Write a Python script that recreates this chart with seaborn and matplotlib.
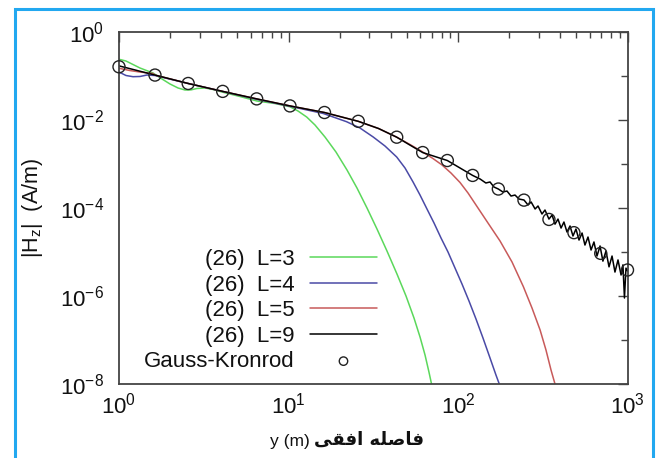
import numpy as np
import pandas as pd
import matplotlib
matplotlib.use("Agg")
import matplotlib.pyplot as plt
import seaborn as sns
from matplotlib.ticker import FixedLocator, FuncFormatter, LogLocator, NullFormatter
from matplotlib.patches import Rectangle

# ---------------- data ----------------
gk_x = [1.0, 1.63, 2.56, 4.09, 6.49, 10.2, 16.3, 25.8, 43.5, 61.9, 86.5, 122,
        173, 245, 344, 483, 695, 1000]
gk_y = [0.162, 0.105, 0.0676, 0.0447, 0.0302, 0.0209, 0.0148, 0.00933, 0.00407,
        0.00182, 0.00120, 0.00055, 0.00027, 0.000151, 5.5e-5, 2.75e-5, 9.3e-6, 3.9e-6]

L9_x = [1.0, 1.63, 2.56, 4.09, 6.49, 10.2, 16.3, 25.8, 34.0, 43.5, 52.0, 61.9, 86.5,
        122, 135, 146, 154.5, 163, 173, 184, 194.5, 205.5, 217, 229, 245, 259, 270,
        285, 296.5, 313, 326, 344, 359, 373.5, 389, 405.5, 421.7, 439.5, 458, 476.8,
        496.6, 517.6, 539.5, 561, 584.8, 609.5, 634, 660.7, 688.7, 716, 746.4, 778,
        810.6, 843.4, 879, 916.2, 939.8, 959.4, 979.5, 1000]
L9_y = [0.17, 0.105, 0.0676, 0.0447, 0.0302, 0.0209, 0.0148, 0.00933, 0.0064, 0.00407,
        0.0027, 0.00182, 0.00120,
        5.5e-4, 4.56e-4, 3.70e-4, 3.90e-4, 3.00e-4, 2.70e-4, 2.31e-4, 2.43e-4, 1.87e-4,
        1.97e-4, 1.60e-4, 1.52e-4, 1.17e-4, 1.37e-4, 9.5e-5, 1.11e-4, 7.3e-5, 9.0e-5,
        5.6e-5, 6.9e-5, 4.3e-5, 5.6e-5, 3.5e-5, 4.8e-5, 2.85e-5, 3.9e-5, 2.31e-5,
        3.33e-5, 1.87e-5, 2.70e-5, 1.44e-5, 2.19e-5, 1.11e-5, 1.69e-5, 8.1e-6, 1.37e-5,
        6.2e-6, 1.05e-5, 4.6e-6, 8.1e-6, 3.5e-6, 6.6e-6, 3.0e-6, 5.1e-6, 9.0e-7,
        4.3e-6, 3.7e-6]

L3_x = [1.0, 1.10, 1.193, 1.33, 1.587, 1.794, 2.0, 2.23, 2.45, 2.66, 2.88, 3.22, 3.59,
        4.05, 5.17, 6.52, 8.32, 10.2, 11.38, 12.8, 14.33, 16.42, 19.06, 22.14, 25.35,
        29.05, 33.27, 38.12, 43.65, 49.35, 55.0, 59.7, 63.9, 67.4, 69.8, 71.2]
L3_y = [0.240, 0.219, 0.1874, 0.152, 0.117, 0.0855, 0.0658, 0.0534, 0.0481, 0.0484,
        0.052, 0.0534, 0.0493, 0.0433, 0.0342, 0.0270, 0.0237, 0.0200, 0.0160, 0.0117,
        7.7e-3, 4.1e-3, 1.87e-3, 7.3e-4, 2.85e-4, 1.0e-4, 3.33e-5, 1.05e-5, 3.16e-6,
        1.0e-6, 3.16e-7, 1.17e-7, 4.56e-8, 1.87e-8, 1.0e-8, 6.3e-9]

L4_x = [1.0, 1.10, 1.21, 1.33, 1.463, 1.63, 2.56, 4.09, 6.49, 10.2, 16.04, 22.0, 26.4,
        31.6, 37.1, 43.5, 48.7, 54.3, 59.7, 65.6, 72.2, 79.4, 87.3, 96.0, 105.6, 116.1,
        127.7, 140.4, 154.5, 167.5, 177]
L4_y = [0.123, 0.1026, 0.0964, 0.0975, 0.1054, 0.1026, 0.0676, 0.0444, 0.0295, 0.0205,
        0.01406, 9.15e-3, 6.58e-3, 4.11e-3, 2.56e-3, 1.44e-3, 8.1e-4, 3.90e-4, 1.97e-4,
        9.5e-5, 4.56e-5, 2.08e-5, 1.0e-5, 4.33e-6, 1.87e-6, 7.7e-7, 3.0e-7, 1.11e-7,
        3.9e-8, 1.60e-8, 9.0e-9]

L5_x = [1.0, 1.161, 1.33, 1.587, 1.63, 2.56, 4.09, 6.49, 10.2, 16.3, 25.8, 34.0, 43.5,
        52.1, 61.3, 71.2, 80.5, 90.9, 102.8, 114.6, 127.7, 150.3, 177, 208.3, 243,
        273.3, 305, 330.4, 353.8, 373.5, 383.9]
L5_y = [0.150, 0.133, 0.123, 0.114, 0.105, 0.0676, 0.0447, 0.0302, 0.0209, 0.0148,
        0.00933, 0.0064, 0.00407, 2.77e-3, 1.92e-3, 1.33e-3, 9.5e-4, 6.24e-4, 3.80e-4,
        2.19e-4, 1.17e-4, 4.56e-5, 1.78e-5, 5.93e-6, 1.63e-6, 5.33e-7, 1.69e-7,
        5.93e-8, 2.08e-8, 1.0e-8, 6.3e-9]

series_labels = ["(26)  L=3", "(26)  L=4", "(26)  L=5", "(26)  L=9", "Gauss-Kronrod"]
x_ticks = [1, 10, 100, 1000]
y_ticks = [1e0, 1e-2, 1e-4, 1e-6, 1e-8]
y_minor = [1e-1, 1e-3, 1e-5, 1e-7]
xlabel_latin = "y (m)"
# Persian "فاصله افقی" in presentation forms, visual (left-to-right) order
xlabel_persian = "\uFBFD\uFED8\uFED3\uFE8D \uFEEA\uFEE0\uFEBB\uFE8E\uFED3"
ylabel = r"|H$_{z}$|  (A/m)"

# ---------------- style ----------------
sns.set_theme(style="white")
plt.rcParams['font.family'] = ['Liberation Sans', 'DejaVu Sans']
plt.rcParams['mathtext.fontset'] = 'custom'
plt.rcParams['mathtext.rm'] = 'Liberation Sans'
plt.rcParams['mathtext.it'] = 'Liberation Sans:italic'
plt.rcParams['mathtext.bf'] = 'Liberation Sans:bold'
plt.rcParams['mathtext.default'] = 'regular'
plt.rcParams['axes.unicode_minus'] = False

fig = plt.figure(figsize=(6.62, 4.58), dpi=100)
ax = fig.add_axes([119 / 662, 1 - 384 / 458, (627.5 - 119) / 662, (384 - 32) / 458])
ax.set_xscale('log')
ax.set_yscale('log')

c_green = '#5bd85b'
c_blue = '#4a4aa6'
c_red = '#c85a5a'

sns.lineplot(x=L3_x, y=L3_y, ax=ax, color=c_green, lw=1.1, estimator=None, sort=False,
             label=series_labels[0])
sns.lineplot(x=L4_x, y=L4_y, ax=ax, color=c_blue, lw=1.1, estimator=None, sort=False,
             label=series_labels[1])
sns.lineplot(x=L5_x, y=L5_y, ax=ax, color=c_red, lw=1.1, estimator=None, sort=False,
             label=series_labels[2])
sns.lineplot(x=L9_x, y=L9_y, ax=ax, color='black', lw=1.1, estimator=None, sort=False,
             label=series_labels[3])
sns.scatterplot(x=gk_x, y=gk_y, ax=ax, marker='o', s=75, facecolor='none',
                edgecolor='#222222', linewidth=1.0, label=series_labels[4], zorder=5,
                clip_on=False)

ax.set_xlim(1, 1000)
ax.set_ylim(1e-8, 1)

ax.xaxis.set_major_locator(FixedLocator(x_ticks))
ax.xaxis.set_minor_locator(LogLocator(base=10, subs=np.arange(2, 10)))
ax.xaxis.set_minor_formatter(NullFormatter())
ax.xaxis.set_major_formatter(FuncFormatter(
    lambda v, p: r'$\mathdefault{10^{%d}}$' % int(round(np.log10(v)))))
ax.yaxis.set_major_locator(FixedLocator(y_ticks))
ax.yaxis.set_minor_locator(FixedLocator(y_minor))
ax.yaxis.set_minor_formatter(NullFormatter())
ax.yaxis.set_major_formatter(FuncFormatter(
    lambda v, p: r'$\mathdefault{10^{%d}}$' % int(round(np.log10(v)))))

ax.tick_params(which='both', direction='in', top=True, right=True, colors='#444444',
               labelcolor='#111111', labelsize=16)
ax.tick_params(which='major', length=7, width=1.0)
ax.tick_params(which='minor', length=4, width=1.0)
ax.tick_params(axis='y', which='minor', length=5)
ax.tick_params(axis='x', pad=6)
ax.tick_params(axis='y', pad=11)

for s in ax.spines.values():
    s.set_color('#444444')
    s.set_linewidth(1.3)

ax.set_ylabel(ylabel, fontsize=15.5, color='#111111')
ax.yaxis.set_label_coords(-0.146, 0.5)
ax.set_xlabel("")

fig.text(270 / 662, 12 / 458, xlabel_latin, fontsize=12.5, color='#111111',
         ha='left', va='baseline')
fig.text(424 / 662, 13 / 458, xlabel_persian, fontsize=13, fontweight='bold',
         family=['DejaVu Sans'], color='#111111', ha='right', va='baseline')

handles, labels = ax.get_legend_handles_labels()
leg = ax.legend(handles, labels, loc='upper right', bbox_to_anchor=(0.507, 0.383),
                frameon=False, markerfirst=False, fontsize=16, handlelength=3.0,
                handletextpad=0.7, labelspacing=0.2, borderpad=0, borderaxespad=0,
                markerscale=0.7)
for col in leg._legend_handle_box.get_children():
    col.align = 'right'
for t in leg.get_texts():
    t.set_color('#111111')

fig.add_artist(Rectangle((15 / 662, -0.05), (653 - 15) / 662, (1 - 9 / 458) + 0.05,
                         transform=fig.transFigure, fill=False, edgecolor='#22a8f0',
                         lw=2.2))

fig.savefig('out.png', dpi=100, facecolor='white')
